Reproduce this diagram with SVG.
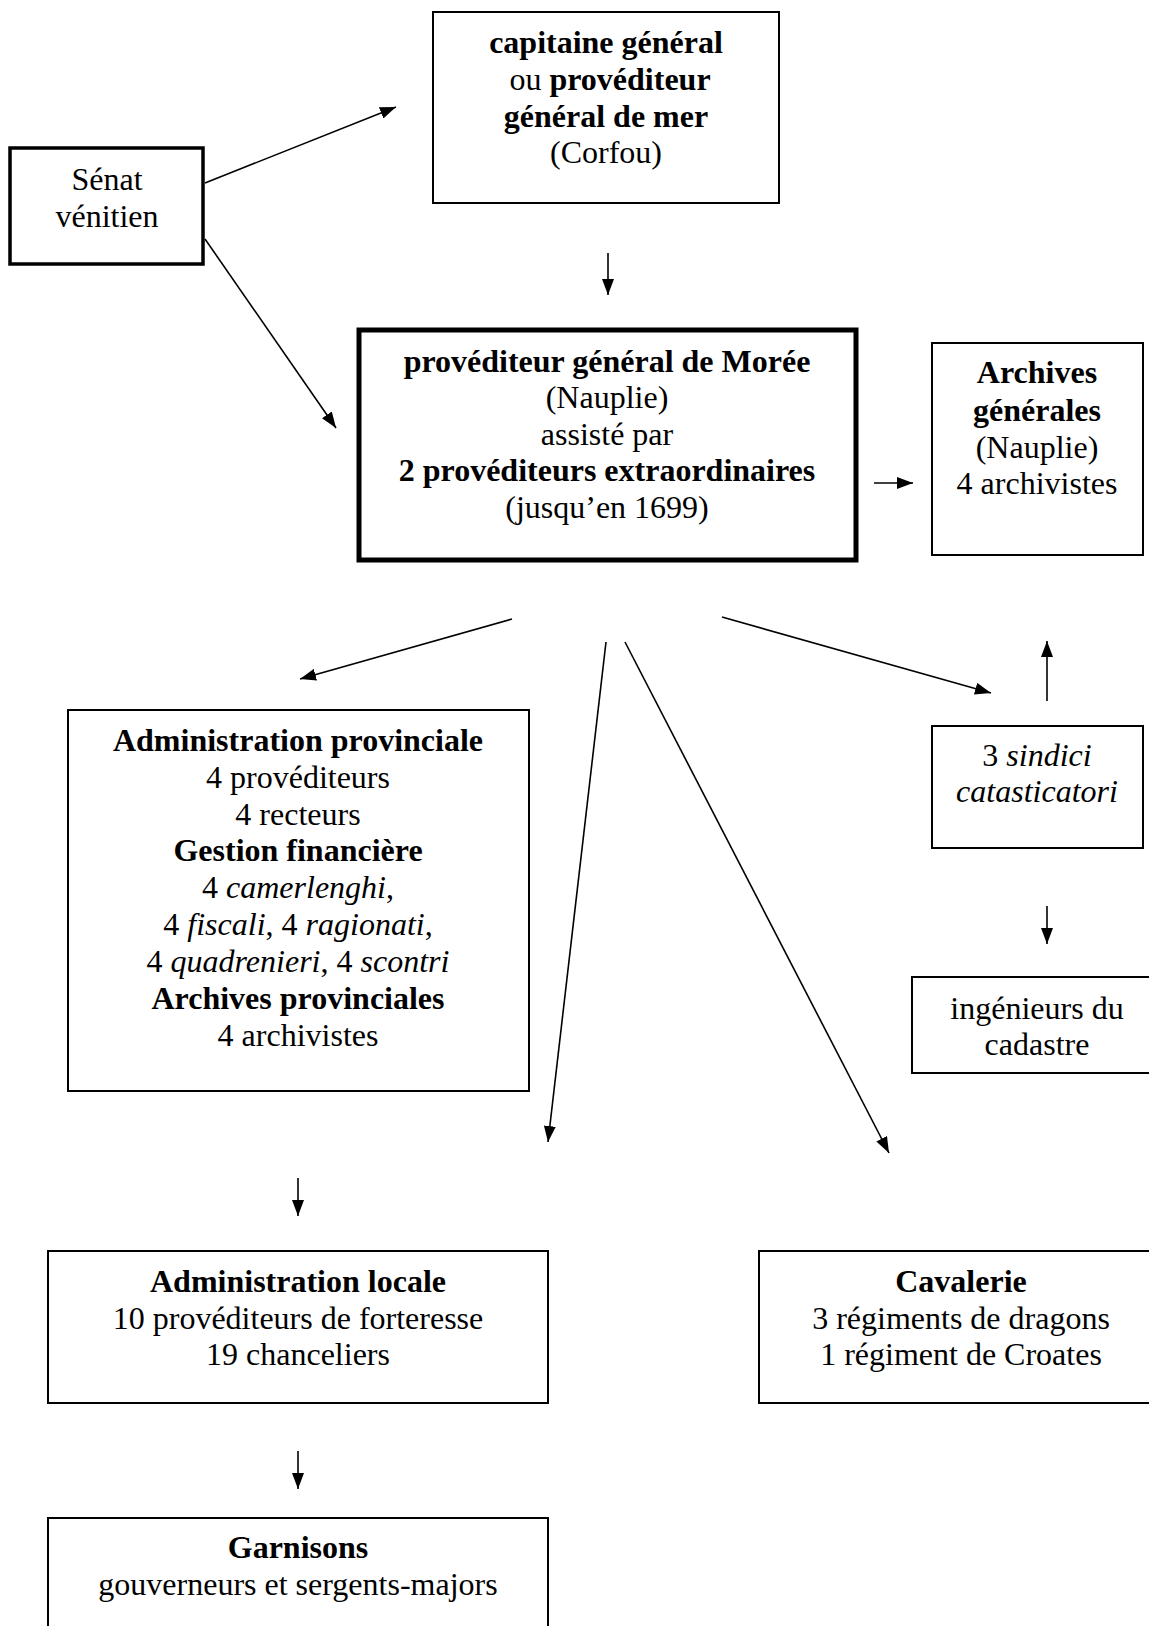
<svg xmlns="http://www.w3.org/2000/svg" width="1149" height="1626" viewBox="0 0 1149 1626">
<style>
  text { font-family: "Liberation Serif", "Times New Roman", serif; font-size: 32px; fill: #000; text-anchor: middle; }
  .b { font-weight: bold; }
  .i { font-style: italic; }
  .box { fill: #fff; stroke: #000; stroke-width: 2; }
  .thick { stroke-width: 3.5; }
  .heavy { stroke-width: 5; }
  .conn line { stroke: #000; stroke-width: 1.6; marker-end: url(#ah); }
</style>
<defs>
  <marker id="ah" markerUnits="userSpaceOnUse" markerWidth="16" markerHeight="12" refX="16" refY="6" orient="auto">
    <path d="M0,0 L16,6 L0,12 z" fill="#000"/>
  </marker>
</defs>
<rect width="1149" height="1626" fill="#fff"/>

<g id="senat">
  <rect class="box thick" x="10" y="148" width="193" height="116"/>
  <text x="107" y="190">Sénat</text>
  <text x="107" y="227">vénitien</text>
</g>

<g id="capitaine">
  <rect class="box" x="433" y="12" width="346" height="191"/>
  <text x="606" y="53" class="b">capitaine général</text>
  <text x="610" y="90">ou <tspan class="b">provéditeur</tspan></text>
  <text x="606" y="127" class="b">général de mer</text>
  <text x="606" y="163">(Corfou)</text>
</g>

<g id="provediteur">
  <rect class="box heavy" x="359" y="330" width="497" height="230"/>
  <text x="607" y="372" class="b">provéditeur général de Morée</text>
  <text x="607" y="408">(Nauplie)</text>
  <text x="607" y="445">assisté par</text>
  <text x="607" y="481" class="b">2 provéditeurs extraordinaires</text>
  <text x="607" y="518">(jusqu’en 1699)</text>
</g>

<g id="archives-generales">
  <rect class="box" x="932" y="343" width="211" height="212"/>
  <text x="1037" y="383" class="b">Archives</text>
  <text x="1037" y="421" class="b">générales</text>
  <text x="1037" y="458">(Nauplie)</text>
  <text x="1037" y="494">4 archivistes</text>
</g>

<g id="sindici">
  <rect class="box" x="932" y="726" width="211" height="122"/>
  <text x="1037" y="766">3 <tspan class="i">sindici</tspan></text>
  <text x="1037" y="802" class="i">catasticatori</text>
</g>

<g id="ingenieurs">
  <rect class="box" x="912" y="977" width="250" height="96"/>
  <text x="1037" y="1019">ingénieurs du</text>
  <text x="1037" y="1055">cadastre</text>
</g>

<g id="admin-provinciale">
  <rect class="box" x="68" y="710" width="461" height="381"/>
  <text x="298" y="751" class="b">Administration provinciale</text>
  <text x="298" y="788">4 provéditeurs</text>
  <text x="298" y="825">4 recteurs</text>
  <text x="298" y="861" class="b">Gestion financière</text>
  <text x="298" y="898">4 <tspan class="i">camerlenghi</tspan>,</text>
  <text x="298" y="935">4 <tspan class="i">fiscali</tspan>, 4 <tspan class="i">ragionati</tspan>,</text>
  <text x="298" y="972">4 <tspan class="i">quadrenieri</tspan>, 4 <tspan class="i">scontri</tspan></text>
  <text x="298" y="1009" class="b">Archives provinciales</text>
  <text x="298" y="1046">4 archivistes</text>
</g>

<g id="admin-locale">
  <rect class="box" x="48" y="1251" width="500" height="152"/>
  <text x="298" y="1292" class="b">Administration locale</text>
  <text x="298" y="1329">10 provéditeurs de forteresse</text>
  <text x="298" y="1365">19 chanceliers</text>
</g>

<g id="cavalerie">
  <rect class="box" x="759" y="1251" width="404" height="152"/>
  <text x="961" y="1292" class="b">Cavalerie</text>
  <text x="961" y="1329">3 régiments de dragons</text>
  <text x="961" y="1365">1 régiment de Croates</text>
</g>

<g id="garnisons">
  <rect class="box" x="48" y="1518" width="500" height="130"/>
  <text x="298" y="1558" class="b">Garnisons</text>
  <text x="298" y="1595">gouverneurs et sergents-majors</text>
</g>

<g id="connectors" class="conn">
  <line x1="205" y1="183" x2="396" y2="107"/>
  <line x1="205" y1="239" x2="336" y2="428"/>
  <line x1="608" y1="253" x2="608" y2="295"/>
  <line x1="874" y1="483" x2="913" y2="483"/>
  <line x1="512" y1="619" x2="300" y2="679"/>
  <line x1="722" y1="617" x2="991" y2="693"/>
  <line x1="606" y1="642" x2="548" y2="1142"/>
  <line x1="625" y1="642" x2="889" y2="1153"/>
  <line x1="1047" y1="701" x2="1047" y2="641"/>
  <line x1="1047" y1="906" x2="1047" y2="944"/>
  <line x1="298" y1="1178" x2="298" y2="1216"/>
  <line x1="298" y1="1451" x2="298" y2="1489"/>
</g>
</svg>
